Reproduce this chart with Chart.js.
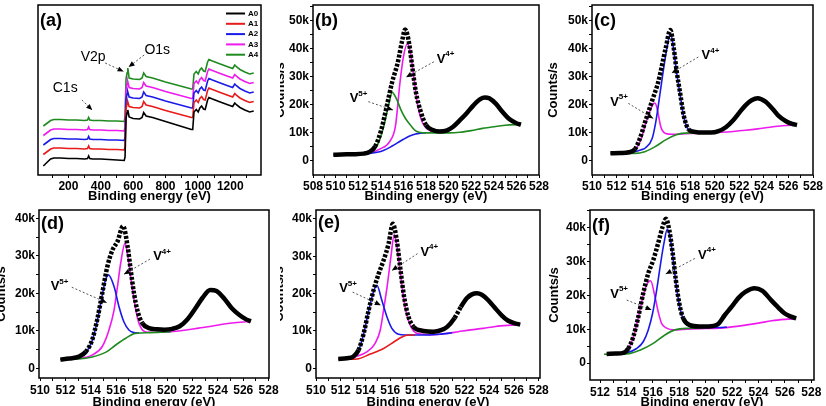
<!DOCTYPE html>
<html><head><meta charset="utf-8">
<script src="https://cdn.jsdelivr.net/npm/chart.js@4.4.1/dist/chart.umd.min.js"></script>
<style>
html,body{margin:0;padding:0;background:#fff;width:826px;height:406px;overflow:hidden;position:relative}
canvas{position:absolute}
</style></head><body>
<canvas id="cb" width="279" height="204" style="left:273px;top:0px;z-index:1"></canvas>
<canvas id="ca" width="280" height="204" style="left:0px;top:0px;z-index:2"></canvas>
<canvas id="cc" width="280" height="204" style="left:546px;top:0px;z-index:1"></canvas>
<canvas id="ce" width="281" height="206" style="left:272px;top:204px;z-index:1"></canvas>
<canvas id="cd" width="286" height="206" style="left:-6px;top:204px;z-index:2"></canvas>
<canvas id="cf" width="279" height="206" style="left:547px;top:204px;z-index:1"></canvas>
<script>
// ---------- (a) survey spectra (arbitrary units, stacked) ----------
const surveyLabels = ['A0','A1','A2','A3','A4'];
const surveyEnergy = [45,70,90,110,150,200,250,300,318,325,332,350,400,450,500,545,550,556,562,567,575,600,640,655,665,680,720,800,880,960,968,976,990,1002,1012,1023,1035,1045,1060,1068,1090,1130,1180,1215,1228,1240,1260,1290,1320,1345];
const surveyA4 = [49,52,54.5,55.5,55.5,55,55,54.5,55,57.5,55,54.5,54.5,54,54,53.5,58,96,102,107,97,96,95.5,97,102,98.5,97,93,89.5,86,86,101,103.5,101,105,107,104,103.5,113,115.5,114,111.5,108.5,106.5,110,108,105.5,103,101,102];
const surveyA3 = [39.5,42.5,45,46,46,45.5,45.5,45,45.5,48,45.5,45,45,44.5,44.5,44,48,86,91,93,87.5,86.5,86,87.5,92.5,89,87.5,83.5,80,76.5,76.5,91.5,94,91.5,95.5,97.5,94.5,94,103.5,106,104.5,102,99,97,100.5,98.5,96,93.5,91.5,92.5];
const surveyA2 = [30,33,35.5,36.5,36.5,36,36,35.5,36,38.5,36,35.5,35.5,35,35,34.5,38,76,81,83,78,77,76.5,78,83,79.5,78,74,70.5,67,67,82,84.5,82,86,88,85,84.5,94,96.5,95,92.5,89.5,87.5,91,89,86.5,84,82,83];
const surveyA1 = [20.5,23.5,26,27,27,26.5,26.5,26,26.5,29,26.5,26,26,25.5,25.5,25,28,66,71,73,68.5,67.5,67,68.5,73.5,70,68.5,64.5,61,57.5,57.5,72.5,75,72.5,76.5,78.5,75.5,75,84.5,87,85.5,83,80,78,81.5,79.5,77,74.5,72.5,73.5];
const surveyA0 = [9,13,16,17,17,16.5,16.5,16,16.5,19,16.5,16,16,15.5,15,14.5,18,57,62,65,58,56.5,56,57.5,62.5,59,57.5,53.5,49.5,45.5,45.5,63,65.5,63,67,69,66,65.5,75,77.5,76,73.5,70.5,68.5,72,70,67.5,65,63,64];
const surveyTicks = [100,200,300,400,500,600,700,800,900,1000,1100,1200,1300];

// ---------- (b) ----------  (counts in k)
const b_dataE = [509.8,510.5,511.5,512.5,513.0,513.5,514.0,514.5,515.0,515.5,515.9,516.15,516.5,516.8,517.1,517.5,518.0,518.6,519.2,519.8,520.4,521.0,521.6,522.2,522.8,523.2,523.6,524.2,524.8,525.4,526.0,526.4];
const b_dataY = [2.2,2.3,2.4,2.6,3.2,5.2,10.5,19.0,28.0,35.0,43.0,46.8,42.0,33.0,24.6,18.0,12.8,11.0,10.5,10.8,12.2,14.5,17.0,19.8,22.0,22.6,22.3,20.3,17.3,14.8,13.4,12.9];
const b_v4E = [512.5,513.1,513.9,514.8,515.3,515.7,516.0,516.35,516.6,516.9,517.2,517.6,518.0,518.6];
const b_v4Y = [2.6,2.9,4.2,7.0,12.5,28.0,37.0,41.7,39.0,30.5,21.5,14.5,11.8,10.2];
const b_v5E = [512.5,513.2,513.8,514.3,514.7,515.0,515.4,515.8,516.2,516.6,517.0,517.4,518.0,519.0,520.0,521.0,522.0,523.0,524.0,525.0,526.4];
const b_v5Y = [2.6,3.2,6.5,13.0,20.0,24.4,22.0,18.0,15.0,12.9,11.0,10.2,10.0,10.0,10.0,10.2,10.8,11.6,12.2,12.7,13.0];
const b_bgE = [509.8,512.0,513.0,514.0,514.5,515.0,515.5,516.0,516.5,517.0,517.5,518.0];
const b_bgY = [2.2,2.5,2.7,3.4,4.2,5.3,6.5,7.7,8.8,9.5,9.9,10.0];

// ---------- (c) ----------
const c_dataE = [511.5,512.3,513.0,513.5,513.9,514.3,514.9,515.4,516.0,516.38,516.66,516.9,517.2,517.46,517.87,518.4,519.0,519.7,520.3,520.9,521.5,522.0,522.5,523.0,523.5,524.1,524.7,525.2,525.8,526.3,526.7];
const c_dataY = [2.7,2.8,3.1,4.2,8.0,13.5,21.5,28.2,40.1,46.6,40.1,31.8,23.5,16.4,11.2,10.3,10.1,10.1,10.6,12.0,14.5,17.2,19.8,21.6,22.3,21.2,18.6,16.0,14.1,13.2,12.8];
const c_v5E = [513.0,513.6,514.0,514.34,514.7,514.95,515.1,515.25,515.4,515.6,516.0,516.5,517.0,517.6,518.5,519.5,520.5,521.5,522.5,523.5,524.5,525.5,526.7];
const c_v5Y = [3.1,4.5,7.8,13.0,17.6,20.0,20.6,19.6,16.6,12.2,9.8,9.5,9.5,9.7,9.9,10.0,10.2,10.5,10.9,11.4,12.0,12.5,12.8];
const c_v4E = [513.0,513.5,514.0,514.34,514.9,515.2,515.6,516.0,516.4,516.66,516.9,517.2,517.46,517.87,518.4,519.0];
const c_v4Y = [2.9,3.3,4.0,4.6,8.0,14.0,25.8,37.6,45.3,39.5,31.3,23.0,16.0,11.0,10.0,9.9];
const c_bgE = [511.5,513.0,513.5,514.3,515.15,516.0,516.8,517.3,518.0,519.0,520.0];
const c_bgY = [2.7,2.7,2.7,3.3,5.1,7.5,9.2,9.8,10.0,10.0,10.1];

// ---------- (d) ----------
const d_dataE = [511.6,512.3,513.07,513.6,514.1,514.5,514.9,515.3,515.7,516.1,516.54,516.9,517.14,517.4,517.66,518.06,518.58,519.2,519.8,520.4,521.0,521.6,522.2,522.8,523.4,523.9,524.5,525.1,525.7,526.2,526.6];
const d_dataY = [2.3,2.6,3.1,4.4,7.5,12.9,20.0,27.1,31.5,33.8,37.9,32.4,26.2,20.0,15.5,12.0,10.7,10.4,10.3,10.5,11.2,13.0,15.8,18.8,20.9,20.6,18.6,16.0,14.2,13.1,12.5];
const d_v5E = [513.0,513.6,514.1,514.5,514.9,515.15,515.38,515.83,516.22,516.6,517.0,517.4,517.8];
const d_v5Y = [2.7,4.0,7.3,12.5,19.5,23.5,24.9,21.8,16.4,12.4,10.2,9.5,9.4];
const d_v4E = [513.0,513.3,514.1,514.9,515.43,515.83,516.1,516.35,516.69,516.98,517.2,517.45,517.7,518.0,518.5,519.5,520.5,521.5,522.5,523.5,524.5,525.5,526.6];
const d_v4Y = [2.6,2.7,3.5,5.8,10.2,15.5,21.8,28.0,33.3,28.5,23.0,17.5,13.0,10.5,9.6,9.6,9.8,10.2,10.7,11.2,11.8,12.2,12.5];
const d_bgE = [511.6,513.0,514.1,515.2,515.96,516.75,517.5,518.6,519.5,520.3];
const d_bgY = [2.4,2.5,3.0,4.3,6.2,8.0,9.3,9.5,9.6,9.7];

// ---------- (e) ----------
const e_dataE = [511.8,512.5,513.0,513.44,513.85,514.25,514.65,515.06,515.46,515.86,516.21,516.53,516.8,517.12,517.47,517.88,518.68,519.5,520.1,520.6,521.2,521.7,522.2,522.6,523.0,523.4,523.9,524.4,525.0,525.5,526.0,526.5];
const e_dataY = [2.5,2.7,3.1,4.9,9.3,15.5,20.9,25.3,28.9,33.3,38.7,34.2,27.1,19.1,13.8,11.1,10.0,9.8,10.2,11.1,13.5,16.4,18.8,19.8,20.1,19.7,18.3,16.4,14.2,12.8,12.1,11.7];
const e_v5E = [513.0,513.44,513.85,514.25,514.65,514.92,515.32,515.73,516.13,516.67,517.2,518.0,519.0,520.0,521.0];
const e_v5Y = [2.9,4.8,9.2,15.3,20.6,22.2,18.2,13.8,10.7,9.1,8.9,8.9,8.9,9.1,9.5];
const e_v4E = [512.8,513.04,514.11,514.78,515.19,515.46,515.78,516.05,516.32,516.53,516.8,517.12,517.47,517.88,518.4,519.5,520.5,521.5,522.5,523.5,524.5,525.5,526.5];
const e_v4Y = [2.6,2.9,4.4,6.7,10.2,15.6,22.7,29.8,35.8,33.0,26.0,18.0,12.8,10.0,9.2,9.0,9.3,9.8,10.3,10.7,11.2,11.5,11.7];
const e_bgE = [511.8,513.3,514.38,515.46,516.4,516.94,517.47,518.0];
const e_bgY = [2.4,2.5,3.8,5.3,7.3,8.4,8.9,8.9];

// ---------- (f) ----------
const f_dataE = [512.5,513.2,513.76,514.14,514.52,514.9,515.27,515.65,516.03,516.4,516.74,516.99,517.24,517.5,517.74,518.0,518.3,518.8,519.5,520.2,520.9,521.45,522.0,522.45,523.0,523.7,524.3,524.95,525.5,525.96,526.4,526.85];
const f_dataY = [2.7,2.8,3.0,4.3,7.8,13.7,20.6,26.5,30.4,35.4,40.3,42.6,39.3,32.4,24.5,17.6,13.2,11.2,10.8,10.8,11.4,14.2,16.8,19.1,21.0,22.1,21.3,18.6,16.4,14.7,13.8,13.2];
const f_v5E = [513.2,513.76,514.14,514.52,514.9,515.27,515.55,515.83,516.16,516.4,516.66,517.04,517.54,518.2,519.0,520.0,521.0,522.0,523.0,524.0,525.0,526.0,526.85];
const f_v5Y = [2.8,3.0,4.2,7.6,13.5,20.0,23.3,24.3,19.6,15.2,11.7,10.3,9.8,9.9,10.1,10.2,10.3,10.7,11.2,11.8,12.5,12.9,13.1];
const f_v4E = [513.6,514.02,514.77,515.27,515.65,515.98,516.29,516.59,516.84,517.09,517.3,517.5,517.74,518.0,518.3,518.8,519.5,520.2,521.0,521.6];
const f_v4Y = [2.8,3.0,4.3,6.3,9.8,14.7,21.6,29.5,35.4,39.5,37.2,31.8,24.0,17.3,13.0,11.0,10.6,10.5,10.5,10.6];
const f_bgE = [512.3,513.5,514.2,515.02,516.03,516.91,517.67,518.8,519.8];
const f_bgY = [2.6,2.7,2.8,3.8,5.8,8.3,9.8,10.3,10.4];

// ---------- tick lists ----------
const ticks508 = [508,509,510,511,512,513,514,515,516,517,518,519,520,521,522,523,524,525,526,527,528];
const ticks510 = [510,511,512,513,514,515,516,517,518,519,520,521,522,523,524,525,526,527,528];
const ticks512 = [512,513,514,515,516,517,518,519,520,521,522,523,524,525,526,527,528];
const countTicks55 = [0,5,10,15,20,25,30,35,40,45,50,55];
const countTicks40 = [0,5,10,15,20,25,30,35,40];
const countTicks45 = [0,5,10,15,20,25,30,35,40,45];

// ---------- styling / helpers ----------
const FONT = '"Liberation Sans", Arial, Helvetica, sans-serif';
Chart.defaults.font.family = FONT;
Chart.defaults.color = '#000';
const COL = {black:'#000000', red:'#e81a1a', blue:'#1a1ae8', magenta:'#ee1aee', green:'#1f8a1f'};

function pts(xs, ys){ return xs.map((x,i)=>({x:x, y:ys[i]})); }
function steepDash(ctx){
  const dx=Math.abs(ctx.p1.x-ctx.p0.x), dy=Math.abs(ctx.p1.y-ctx.p0.y);
  return dy > 1.5*dx ? [3,1.6] : undefined;
}
function comp(xs, ys, color){
  return {data:pts(xs,ys), borderColor:color, backgroundColor:color, borderWidth:1.6, pointRadius:0, fill:false, cubicInterpolationMode:'monotone'};
}
function dataLine(xs, ys){
  return {data:pts(xs,ys), borderColor:'#000', backgroundColor:'#000', borderWidth:4.5, pointRadius:0, fill:false,
          cubicInterpolationMode:'monotone', borderCapStyle:'butt', segment:{borderDash:steepDash}};
}
const gridOpt = {display:true, drawOnChartArea:false, drawTicks:true, tickLength:3, color:'#000', lineWidth:1};
function xAxis(min, max, tickVals, h, pad, every){
  return {type:'linear', min:min, max:max,
    afterBuildTicks:s=>{ s.ticks = tickVals.map(v=>({value:v})); },
    afterFit:s=>{ s.height = h; s.paddingLeft = 0; s.paddingRight = 0; },
    ticks:{autoSkip:false, maxRotation:0, minRotation:0, padding:pad, color:'#000', font:{size:12, weight:'bold'},
           callback:v=> (v % every === 0 ? String(v) : '')},
    grid:gridOpt, border:{display:false},
    title:{display:true, text:'Binding energy (eV)', color:'#000', font:{size:13, weight:'bold'}, padding:0}};
}
function yAxis(min, max, tickVals, w){
  return {type:'linear', min:min, max:max,
    afterBuildTicks:s=>{ s.ticks = tickVals.map(v=>({value:v})); },
    afterFit:s=>{ s.width = w; s.paddingTop = 0; s.paddingBottom = 0; },
    ticks:{autoSkip:false, padding:1, color:'#000', font:{size:12, weight:'bold'},
           callback:v=> (v % 10 === 0 ? (v === 0 ? '0' : v + 'k') : '')},
    grid:gridOpt, border:{display:false},
    title:{display:true, text:'Counts/s', color:'#000', font:{size:13, weight:'bold'}, padding:0}};
}

const panelPlugin = {
  id:'panel',
  beforeDraw(chart, args, o){
    if (o.bg){ const c=chart.ctx; c.save(); c.fillStyle='#fff'; c.fillRect(0,0,chart.width,chart.height); c.restore(); }
  },
  afterDraw(chart, args, o){
    const c=chart.ctx, a=chart.chartArea, sx=chart.scales.x, sy=chart.scales.y;
    c.save();
    (o.arrows||[]).forEach(ar=>{
      const x1=sx.getPixelForValue(ar[0]), y1=sy.getPixelForValue(ar[1]);
      const x2=sx.getPixelForValue(ar[2]), y2=sy.getPixelForValue(ar[3]);
      c.strokeStyle='#555'; c.lineWidth=1; c.setLineDash([2,2]);
      c.beginPath(); c.moveTo(x1,y1); c.lineTo(x2,y2); c.stroke(); c.setLineDash([]);
      const ang=Math.atan2(y2-y1,x2-x1), L=6, W=2.6;
      c.fillStyle='#000'; c.beginPath(); c.moveTo(x2,y2);
      c.lineTo(x2-L*Math.cos(ang)+W*Math.sin(ang), y2-L*Math.sin(ang)-W*Math.cos(ang));
      c.lineTo(x2-L*Math.cos(ang)-W*Math.sin(ang), y2-L*Math.sin(ang)+W*Math.cos(ang));
      c.closePath(); c.fill();
    });
    (o.notes||[]).forEach(n=>{
      const x=sx.getPixelForValue(n.x), y=sy.getPixelForValue(n.y);
      c.fillStyle='#000'; c.textBaseline='middle';
      if (n.sup){
        c.font='bold 13px '+FONT; const w=c.measureText(n.t).width;
        c.textAlign='left'; c.fillText(n.t, x-w/2, y);
        c.font='bold 8px '+FONT; c.fillText(n.sup, x+w/2, y-5);
      } else {
        c.font='14px '+FONT; c.textAlign='center'; c.fillText(n.t, x, y);
      }
    });
    if (o.legend){
      const lx=a.right-35;
      chart.data.datasets.forEach((ds,i)=>{
        const ly=a.top+8.5+i*10.3;
        c.strokeStyle=ds.borderColor; c.lineWidth=2; c.beginPath(); c.moveTo(lx,ly); c.lineTo(lx+19,ly); c.stroke();
        c.fillStyle='#000'; c.font='bold 8px '+FONT; c.textAlign='left'; c.textBaseline='middle';
        c.fillText(ds.label, lx+22, ly);
      });
    }
    c.strokeStyle='#000'; c.lineWidth=1.5; c.strokeRect(a.left, a.top, a.right-a.left, a.bottom-a.top);
    c.fillStyle='#000'; c.font='bold 18px '+FONT; c.textAlign='left'; c.textBaseline='middle';
    c.fillText(o.label, a.left+2, a.top+o.labelDy);
    c.restore();
  }
};

function makeChart(id, datasets, scales, padding, panelOpts){
  return new Chart(document.getElementById(id), {
    type:'line',
    data:{datasets:datasets},
    options:{responsive:false, animation:false, devicePixelRatio:1,
      layout:{padding:padding},
      scales:scales,
      plugins:{legend:{display:false}, tooltip:{enabled:false}, panel:panelOpts}},
    plugins:[panelPlugin]
  });
}

// (a)
const surveyColors = [COL.black, COL.red, COL.blue, COL.magenta, COL.green];
const surveySeries = [surveyA0, surveyA1, surveyA2, surveyA3, surveyA4];
makeChart('ca',
  surveySeries.map((ys,i)=>({label:surveyLabels[i], data:pts(surveyEnergy, ys), borderColor:surveyColors[i], backgroundColor:surveyColors[i], borderWidth:1.6, pointRadius:0, fill:false, tension:0})),
  {x:xAxis(12, 1390, surveyTicks, 29, 1, 200), y:{type:'linear', display:false, min:0, max:170}},
  {left:38, top:5, right:19, bottom:0},
  {bg:true, label:'(a)', labelDy:16, legend:true,
   notes:[{t:'C1s', x:180, y:87},{t:'V2p', x:353, y:118},{t:'O1s', x:749, y:125}],
   arrows:[[283,75,347,65],[427,112,541,103.5],[668,120,572,108]]});

// (b)
makeChart('cb',
  [dataLine(b_dataE,b_dataY), comp(b_v5E,b_v5Y,COL.green), comp(b_bgE,b_bgY,COL.blue), comp(b_v4E,b_v4Y,COL.magenta)],
  {x:xAxis(508, 528, ticks508, 29, 1, 2), y:yAxis(-5, 55.5, countTicks55, 40)},
  {left:0, top:5, right:13, bottom:0},
  {label:'(b)', labelDy:16,
   notes:[{t:'V', sup:'5+', x:511.63, y:22.1},{t:'V', sup:'4+', x:519.33, y:36.3}],
   arrows:[[512.9,21.1,515.08,18.1],[518.7,35.3,516.23,29.8]]});

// (c)
makeChart('cc',
  [dataLine(c_dataE,c_dataY), comp(c_bgE,c_bgY,COL.green), comp(c_v4E,c_v4Y,COL.blue), comp(c_v5E,c_v5Y,COL.magenta)],
  {x:xAxis(510, 528, ticks510, 29, 1, 2), y:yAxis(-5, 55.5, countTicks55, 46)},
  {left:0, top:5, right:13, bottom:0},
  {label:'(c)', labelDy:16,
   notes:[{t:'V', sup:'5+', x:511.83, y:21.0},{t:'V', sup:'4+', x:519.28, y:37.6}],
   arrows:[[512.96,20.5,514.99,15.1],[518.66,37.0,516.49,31.3]]});

// (d)
makeChart('cd',
  [dataLine(d_dataE,d_dataY), comp(d_bgE,d_bgY,COL.green), comp(d_v5E,d_v5Y,COL.blue), comp(d_v4E,d_v4Y,COL.magenta)],
  {x:xAxis(509.92, 528.03, ticks510, 32, 2, 2), y:yAxis(-2.6, 42.2, countTicks40, 45)},
  {left:0, top:6, right:11, bottom:0},
  {bg:true, label:'(d)', labelDy:14,
   notes:[{t:'V', sup:'5+', x:511.18, y:21.7},{t:'V', sup:'4+', x:519.25, y:29.8}],
   arrows:[[512.5,21.6,515.25,17.5],[518.66,29.1,516.61,25.1]]});

// (e)
makeChart('ce',
  [dataLine(e_dataE,e_dataY), comp(e_bgE,e_bgY,COL.red), comp(e_v5E,e_v5Y,COL.blue), comp(e_v4E,e_v4Y,COL.magenta)],
  {x:xAxis(510.0, 528.1, ticks510, 32, 2, 2), y:yAxis(-2.6, 42.4, countTicks40, 44)},
  {left:0, top:6, right:13, bottom:0},
  {label:'(e)', labelDy:13,
   notes:[{t:'V', sup:'5+', x:512.22, y:21.4},{t:'V', sup:'4+', x:518.79, y:31.1}],
   arrows:[[512.96,20.4,515.24,16.9],[518.2,30.7,516.13,26.2]]});

// (f)
makeChart('cf',
  [dataLine(f_dataE,f_dataY), comp(f_bgE,f_bgY,COL.green), comp(f_v4E,f_v4Y,COL.blue), comp(f_v5E,f_v5Y,COL.magenta)],
  {x:xAxis(511.24, 528.2, ticks512, 30, 2, 2), y:yAxis(-5, 45.2, countTicks45, 43)},
  {left:0, top:6, right:12, bottom:0},
  {label:'(f)', labelDy:16,
   notes:[{t:'V', sup:'5+', x:513.1, y:20.4},{t:'V', sup:'4+', x:519.75, y:31.9}],
   arrows:[[514.02,18.6,515.9,15.7],[519.18,30.9,516.97,26.3]]});
</script>
</body></html>
